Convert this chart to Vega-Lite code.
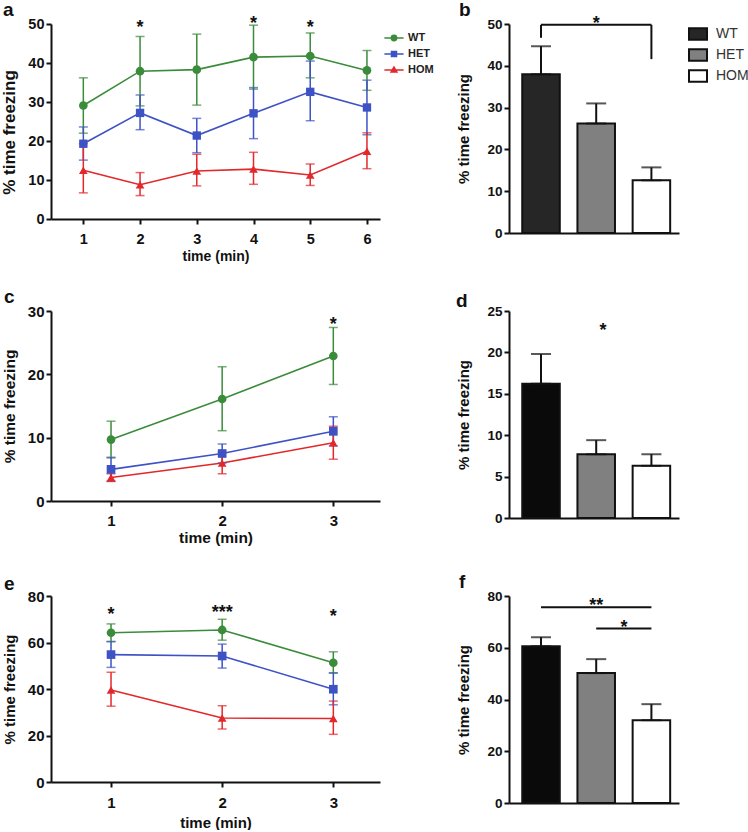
{
  "$schema": "https://vega.github.io/schema/vega-lite/v6.json",
  "background": "white",
  "padding": {"left": 0, "top": 0, "right": 2, "bottom": 0},
  "config": {
    "font": "Liberation Sans",
    "view": {"stroke": null},
    "axis": {"grid": false, "domainColor": "#111", "domainWidth": 2, "tickColor": "#111", "tickWidth": 2, "tickSize": 5, "labelFont": "Liberation Sans", "labelFontWeight": "bold", "labelColor": "#111", "titleFont": "Liberation Sans", "titleFontWeight": "bold", "titleColor": "#111", "labelPadding": 2, "labelOverlap": false},
    "title": {"font": "Liberation Sans", "fontWeight": "bold", "fontSize": 19, "color": "#111", "anchor": "start", "frame": "group", "baseline": "alphabetic", "offset": 11}
  },
  "resolve": {"scale": {"color": "independent", "fill": "independent", "shape": "independent"}, "legend": {"color": "independent", "fill": "independent", "shape": "independent"}},
  "datasets": {
    "lines": [
      {"panel": "a", "group": "WT", "time": 1, "mean": 29.1, "lo": 22.0, "hi": 36.2},
      {"panel": "a", "group": "WT", "time": 2, "mean": 37.9, "lo": 29.0, "hi": 46.8},
      {"panel": "a", "group": "WT", "time": 3, "mean": 38.3, "lo": 29.2, "hi": 47.4},
      {"panel": "a", "group": "WT", "time": 4, "mean": 41.5, "lo": 33.3, "hi": 49.7},
      {"panel": "a", "group": "WT", "time": 5, "mean": 41.8, "lo": 36.2, "hi": 47.7},
      {"panel": "a", "group": "WT", "time": 6, "mean": 38.1, "lo": 33.0, "hi": 43.2},
      {"panel": "a", "group": "HET", "time": 1, "mean": 19.3, "lo": 15.1, "hi": 23.6},
      {"panel": "a", "group": "HET", "time": 2, "mean": 27.2, "lo": 22.9, "hi": 31.8},
      {"panel": "a", "group": "HET", "time": 3, "mean": 21.4, "lo": 17.0, "hi": 25.8},
      {"panel": "a", "group": "HET", "time": 4, "mean": 27.1, "lo": 20.6, "hi": 33.7},
      {"panel": "a", "group": "HET", "time": 5, "mean": 32.6, "lo": 25.2, "hi": 40.5},
      {"panel": "a", "group": "HET", "time": 6, "mean": 28.6, "lo": 21.6, "hi": 35.6},
      {"panel": "a", "group": "HOM", "time": 1, "mean": 12.5, "lo": 6.7, "hi": 19.3},
      {"panel": "a", "group": "HOM", "time": 2, "mean": 8.8, "lo": 6.0, "hi": 11.9},
      {"panel": "a", "group": "HOM", "time": 3, "mean": 12.3, "lo": 8.5, "hi": 16.6},
      {"panel": "a", "group": "HOM", "time": 4, "mean": 12.8, "lo": 8.9, "hi": 17.1},
      {"panel": "a", "group": "HOM", "time": 5, "mean": 11.3, "lo": 8.6, "hi": 14.1},
      {"panel": "a", "group": "HOM", "time": 6, "mean": 17.4, "lo": 12.9, "hi": 22.1},
      {"panel": "c", "group": "WT", "time": 1, "mean": 9.7, "lo": 6.8, "hi": 12.6},
      {"panel": "c", "group": "WT", "time": 2, "mean": 16.1, "lo": 11.1, "hi": 21.2},
      {"panel": "c", "group": "WT", "time": 3, "mean": 22.9, "lo": 18.4, "hi": 27.4},
      {"panel": "c", "group": "HET", "time": 1, "mean": 5.0, "lo": 3.1, "hi": 6.9},
      {"panel": "c", "group": "HET", "time": 2, "mean": 7.5, "lo": 6.0, "hi": 9.0},
      {"panel": "c", "group": "HET", "time": 3, "mean": 11.0, "lo": 8.7, "hi": 13.3},
      {"panel": "c", "group": "HOM", "time": 1, "mean": 3.7, "lo": 3.1, "hi": 4.3},
      {"panel": "c", "group": "HOM", "time": 2, "mean": 6.0, "lo": 4.3, "hi": 7.7},
      {"panel": "c", "group": "HOM", "time": 3, "mean": 9.2, "lo": 6.6, "hi": 11.8},
      {"panel": "e", "group": "WT", "time": 1, "mean": 64.2, "lo": 60.4, "hi": 68.0},
      {"panel": "e", "group": "WT", "time": 2, "mean": 65.4, "lo": 61.0, "hi": 70.0},
      {"panel": "e", "group": "WT", "time": 3, "mean": 51.3, "lo": 46.8, "hi": 56.0},
      {"panel": "e", "group": "HET", "time": 1, "mean": 54.8, "lo": 49.3, "hi": 60.4},
      {"panel": "e", "group": "HET", "time": 2, "mean": 54.2, "lo": 49.0, "hi": 59.3},
      {"panel": "e", "group": "HET", "time": 3, "mean": 39.9, "lo": 33.2, "hi": 47.0},
      {"panel": "e", "group": "HOM", "time": 1, "mean": 39.6, "lo": 32.6, "hi": 47.2},
      {"panel": "e", "group": "HOM", "time": 2, "mean": 27.5, "lo": 22.8, "hi": 32.8},
      {"panel": "e", "group": "HOM", "time": 3, "mean": 27.3, "lo": 20.5, "hi": 34.8}
    ],
    "bars": [
      {"panel": "b", "group": "WT", "mean": 38.0, "hi": 44.7},
      {"panel": "b", "group": "HET", "mean": 26.2, "hi": 31.0},
      {"panel": "b", "group": "HOM", "mean": 12.6, "hi": 15.7},
      {"panel": "d", "group": "WT", "mean": 16.2, "hi": 19.8},
      {"panel": "d", "group": "HET", "mean": 7.7, "hi": 9.4},
      {"panel": "d", "group": "HOM", "mean": 6.3, "hi": 7.7},
      {"panel": "f", "group": "WT", "mean": 60.6, "hi": 64.1},
      {"panel": "f", "group": "HET", "mean": 50.2, "hi": 55.6},
      {"panel": "f", "group": "HOM", "mean": 32.0, "hi": 38.2}
    ],
    "lineStars": [
      {"panel": "a", "time": 2, "mean": 50.3, "label": "*"},
      {"panel": "a", "time": 4, "mean": 51.3, "label": "*"},
      {"panel": "a", "time": 5, "mean": 50.3, "label": "*"},
      {"panel": "c", "time": 3, "mean": 28.6, "label": "*"},
      {"panel": "e", "time": 1, "mean": 74.1, "label": "*"},
      {"panel": "e", "time": 2, "mean": 74.8, "label": "***"},
      {"panel": "e", "time": 3, "mean": 73.1, "label": "*"}
    ],
    "barStars": [
      {"panel": "b", "group": "HET", "mean": 51.1, "label": "*"},
      {"panel": "d", "group": "HET", "mean": 23.2, "label": "*"},
      {"panel": "f", "group": "HET", "mean": 78.2, "label": "**"},
      {"panel": "f", "group": "HET", "mean": 69.6, "label": "*"}
    ],
    "hrules": [
      {"panel": "b", "from": "WT", "to": "HOM", "y": 49.8},
      {"panel": "f", "from": "WT", "to": "HOM", "y": 75.7},
      {"panel": "f", "from": "HET", "to": "HOM", "y": 67.4}
    ],
    "vrules": [
      {"panel": "b", "at": "WT", "y": 46.7, "y2": 49.8},
      {"panel": "b", "at": "HOM", "y": 41.6, "y2": 49.8}
    ]
  },
  "columns": 2,
  "bounds": "flush",
  "align": "each",
  "spacing": {"row": 78, "column": 129},
  "concat": [
    {
      "width": 329, "height": 195,
      "title": {"text": "a", "dx": -48, "offset": -5},
      "encoding": {
        "x": {"field": "time", "type": "quantitative", "scale": {"domain": [0.43, 6.23], "nice": false, "zero": false}, "axis": {"values": [1, 2, 3, 4, 5, 6], "title": "time (min)", "labelFontSize": 14.5, "titleFontSize": 14, "labelPadding": 8, "titlePadding": 4}},
        "y": {"field": "mean", "type": "quantitative", "title": "% time freezing", "scale": {"domain": [0, 50], "nice": false}, "axis": {"values": [0, 10, 20, 30, 40, 50], "tickCount": 6, "title": "% time freezing", "labelFontSize": 14.5, "titleFontSize": 17, "titlePadding": 9, "titleY": 108, "labelOverlap": false}},
        "color": {"field": "group", "type": "nominal", "scale": {"domain": ["WT", "HET", "HOM"], "range": ["#3a8c3a", "#3d52c4", "#e2282b"]},
          "legend": {"orient": "none", "legendX": 336, "legendY": 7, "title": null, "padding": 0, "labelFont": "Liberation Sans", "labelFontSize": 11, "labelFontWeight": "bold", "labelColor": "#222", "labelOffset": 7, "symbolSize": 144, "rowPadding": 3,
            "encode": {"symbols": {"update": {
              "shape": {"signal": "datum.value === 'WT' ? 'M-1.6,0H1.6M0.45,0A0.45,0.45,0,1,1,-0.45,0A0.45,0.45,0,1,1,0.45,0Z' : datum.value === 'HET' ? 'M-1.6,0H1.6M-0.42,-0.42H0.42V0.42H-0.42Z' : 'M-1.6,0H1.6M0,-0.5L0.48,0.35H-0.48Z'"},
              "fill": {"signal": "datum.value === 'WT' ? '#3a8c3a' : datum.value === 'HET' ? '#3d52c4' : '#e2282b'"},
              "stroke": {"signal": "datum.value === 'WT' ? '#3a8c3a' : datum.value === 'HET' ? '#3d52c4' : '#e2282b'"},
              "strokeWidth": {"value": 1.5},
              "opacity": {"value": 1}
            }}}}}
      },
      "layer": [
        {"data": {"name": "lines"}, "transform": [{"filter": "datum.panel === 'a'"}],
         "mark": {"type": "line", "strokeWidth": 1.6}},
        {"data": {"name": "lines"}, "transform": [{"filter": "datum.panel === 'a'"}],
         "mark": {"type": "errorbar", "ticks": true, "size": 9, "thickness": 1.5},
         "encoding": {"y": {"field": "lo", "type": "quantitative", "title": "% time freezing"}, "y2": {"field": "hi"}}},
        {"data": {"name": "lines"}, "transform": [{"filter": "datum.panel === 'a' && datum.group === 'WT'"}],
         "mark": {"type": "point", "filled": true, "size": 75, "opacity": 1, "shape": "circle"}},
        {"data": {"name": "lines"}, "transform": [{"filter": "datum.panel === 'a' && datum.group === 'HET'"}],
         "mark": {"type": "point", "filled": true, "size": 70, "opacity": 1, "shape": "square"}},
        {"data": {"name": "lines"}, "transform": [{"filter": "datum.panel === 'a' && datum.group === 'HOM'"}],
         "mark": {"type": "point", "filled": true, "size": 75, "opacity": 1, "shape": "triangle-up"}},
        {"data": {"name": "lineStars"}, "transform": [{"filter": "datum.panel === 'a'"}],
         "mark": {"type": "text", "fontSize": 18, "fontWeight": "bold", "baseline": "alphabetic", "dy": 10},
         "encoding": {"text": {"field": "label"}, "color": {"value": "#111"}}}
      ]
    },
    {
      "width": 170, "height": 209,
      "title": {"text": "b", "dx": -50, "offset": -5},
      "encoding": {
        "x": {"field": "group", "type": "nominal", "scale": {"domain": ["WT", "HET", "HOM"], "paddingInner": 0.32, "paddingOuter": 0.2, "align": 0.6}, "axis": {"labels": false, "ticks": false, "title": null}}
      },
      "layer": [
        {"data": {"name": "bars"}, "transform": [{"filter": "datum.panel === 'b'"}],
         "mark": {"type": "bar", "stroke": "#111", "strokeWidth": 2},
         "encoding": {"y": {"field": "mean", "type": "quantitative", "scale": {"domain": [0, 50], "nice": false}, "axis": {"values": [0, 10, 20, 30, 40, 50], "title": "% time freezing", "labelFontSize": 13.5, "titleFontSize": 15, "titlePadding": 15}},
           "fill": {"field": "group", "type": "nominal", "scale": {"domain": ["WT", "HET", "HOM"], "range": ["#262626", "#808080", "#ffffff"]},
             "legend": {"orient": "right", "offset": 9, "title": null, "padding": 0, "symbolType": "M-1,-0.65H1V0.65H-1Z", "symbolSize": 324, "symbolStrokeColor": "#111", "symbolStrokeWidth": 2, "labelFont": "Liberation Sans", "labelFontSize": 14, "labelFontWeight": "normal", "labelColor": "#333", "labelOffset": 8, "rowPadding": 1}}}},
        {"data": {"name": "bars"}, "transform": [{"filter": "datum.panel === 'b'"}],
         "mark": {"type": "errorbar", "ticks": true, "size": 20, "thickness": 2, "color": "#111"},
         "encoding": {"y": {"field": "mean", "type": "quantitative", "title": "% time freezing"}, "y2": {"field": "hi"}}},
        {"data": {"name": "hrules"}, "transform": [{"filter": "datum.panel === 'b'"}],
         "mark": {"type": "rule", "strokeWidth": 2, "color": "#111"},
         "encoding": {"x": {"field": "from", "type": "nominal", "bandPosition": 0.5}, "x2": {"field": "to", "bandPosition": 0.5}, "y": {"field": "y", "type": "quantitative", "title": "% time freezing"}}},
        {"data": {"name": "vrules"}, "transform": [{"filter": "datum.panel === 'b'"}],
         "mark": {"type": "rule", "strokeWidth": 2, "color": "#111"},
         "encoding": {"x": {"field": "at", "type": "nominal", "bandPosition": 0.5}, "y": {"field": "y", "type": "quantitative", "title": "% time freezing"}, "y2": {"field": "y2"}}},
        {"data": {"name": "barStars"}, "transform": [{"filter": "datum.panel === 'b'"}],
         "mark": {"type": "text", "fontSize": 18, "fontWeight": "bold", "baseline": "alphabetic", "dy": 10, "color": "#111"},
         "encoding": {"x": {"field": "group", "type": "nominal", "bandPosition": 0.5}, "y": {"field": "mean", "type": "quantitative", "title": "% time freezing"}, "text": {"field": "label"}}}
      ]
    },
    {
      "width": 329, "height": 190,
      "title": {"text": "c", "dx": -47, "offset": -3},
      "encoding": {
        "x": {"field": "time", "type": "quantitative", "scale": {"domain": [0.46, 3.42], "nice": false, "zero": false}, "axis": {"values": [1, 2, 3], "title": "time (min)", "labelFontSize": 15, "titleFontSize": 15.5, "labelPadding": 7, "titlePadding": 2}},
        "color": {"field": "group", "type": "nominal", "scale": {"domain": ["WT", "HET", "HOM"], "range": ["#3a8c3a", "#3d52c4", "#e2282b"]}, "legend": null}
      },
      "layer": [
        {"data": {"name": "lines"}, "transform": [{"filter": "datum.panel === 'c'"}],
         "mark": {"type": "line", "strokeWidth": 1.6},
         "encoding": {"y": {"field": "mean", "type": "quantitative", "scale": {"domain": [0, 30], "nice": false}, "axis": {"values": [0, 10, 20, 30], "title": "% time freezing", "labelFontSize": 15, "titleFontSize": 15.5, "titlePadding": 10}}}},
        {"data": {"name": "lines"}, "transform": [{"filter": "datum.panel === 'c'"}],
         "mark": {"type": "errorbar", "ticks": true, "size": 9, "thickness": 1.5},
         "encoding": {"y": {"field": "lo", "type": "quantitative", "title": "% time freezing"}, "y2": {"field": "hi"}}},
        {"data": {"name": "lines"}, "transform": [{"filter": "datum.panel === 'c'"}],
         "mark": {"type": "point", "filled": true, "size": 75, "opacity": 1},
         "encoding": {"y": {"field": "mean", "type": "quantitative", "title": "% time freezing"},
           "shape": {"field": "group", "type": "nominal", "scale": {"domain": ["WT", "HET", "HOM"], "range": ["circle", "square", "triangle-up"]}, "legend": null}}},
        {"data": {"name": "lineStars"}, "transform": [{"filter": "datum.panel === 'c'"}],
         "mark": {"type": "text", "fontSize": 18, "fontWeight": "bold", "baseline": "alphabetic", "dy": 10},
         "encoding": {"y": {"field": "mean", "type": "quantitative", "title": "% time freezing"}, "text": {"field": "label"}, "color": {"value": "#111"}}}
      ]
    },
    {
      "width": 170, "height": 207,
      "title": {"text": "d", "dx": -53, "offset": -7},
      "encoding": {
        "x": {"field": "group", "type": "nominal", "scale": {"domain": ["WT", "HET", "HOM"], "paddingInner": 0.32, "paddingOuter": 0.2, "align": 0.6}, "axis": {"labels": false, "ticks": false, "title": null}}
      },
      "layer": [
        {"data": {"name": "bars"}, "transform": [{"filter": "datum.panel === 'd'"}],
         "mark": {"type": "bar", "stroke": "#111", "strokeWidth": 2},
         "encoding": {"y": {"field": "mean", "type": "quantitative", "scale": {"domain": [0, 25], "nice": false}, "axis": {"values": [0, 5, 10, 15, 20, 25], "title": "% time freezing", "labelFontSize": 13.5, "titleFontSize": 15, "titlePadding": 15}},
           "fill": {"field": "group", "type": "nominal", "scale": {"domain": ["WT", "HET", "HOM"], "range": ["#0a0a0a", "#808080", "#ffffff"]}, "legend": null}}},
        {"data": {"name": "bars"}, "transform": [{"filter": "datum.panel === 'd'"}],
         "mark": {"type": "errorbar", "ticks": true, "size": 20, "thickness": 2, "color": "#111"},
         "encoding": {"y": {"field": "mean", "type": "quantitative", "title": "% time freezing"}, "y2": {"field": "hi"}}},
        {"data": {"name": "barStars"}, "transform": [{"filter": "datum.panel === 'd'"}],
         "mark": {"type": "text", "fontSize": 18, "fontWeight": "bold", "baseline": "alphabetic", "dy": 10, "color": "#111"},
         "encoding": {"x": {"field": "group", "type": "nominal", "bandPosition": 0.68}, "y": {"field": "mean", "type": "quantitative", "title": "% time freezing"}, "text": {"field": "label"}}}
      ]
    },
    {
      "width": 329, "height": 186,
      "title": {"text": "e", "dx": -47, "offset": -5},
      "encoding": {
        "x": {"field": "time", "type": "quantitative", "scale": {"domain": [0.46, 3.42], "nice": false, "zero": false}, "axis": {"values": [1, 2, 3], "title": "time (min)", "labelFontSize": 15, "titleFontSize": 15, "labelPadding": 8, "titlePadding": 5}},
        "color": {"field": "group", "type": "nominal", "scale": {"domain": ["WT", "HET", "HOM"], "range": ["#3a8c3a", "#3d52c4", "#e2282b"]}, "legend": null}
      },
      "layer": [
        {"data": {"name": "lines"}, "transform": [{"filter": "datum.panel === 'e'"}],
         "mark": {"type": "line", "strokeWidth": 1.6},
         "encoding": {"y": {"field": "mean", "type": "quantitative", "scale": {"domain": [0, 80], "nice": false}, "axis": {"values": [0, 20, 40, 60, 80], "title": "% time freezing", "labelFontSize": 15, "titleFontSize": 15, "titlePadding": 10}}}},
        {"data": {"name": "lines"}, "transform": [{"filter": "datum.panel === 'e'"}],
         "mark": {"type": "errorbar", "ticks": true, "size": 9, "thickness": 1.5},
         "encoding": {"y": {"field": "lo", "type": "quantitative", "title": "% time freezing"}, "y2": {"field": "hi"}}},
        {"data": {"name": "lines"}, "transform": [{"filter": "datum.panel === 'e'"}],
         "mark": {"type": "point", "filled": true, "size": 75, "opacity": 1},
         "encoding": {"y": {"field": "mean", "type": "quantitative", "title": "% time freezing"},
           "shape": {"field": "group", "type": "nominal", "scale": {"domain": ["WT", "HET", "HOM"], "range": ["circle", "square", "triangle-up"]}, "legend": null}}},
        {"data": {"name": "lineStars"}, "transform": [{"filter": "datum.panel === 'e'"}],
         "mark": {"type": "text", "fontSize": 18, "fontWeight": "bold", "baseline": "alphabetic", "dy": 10},
         "encoding": {"y": {"field": "mean", "type": "quantitative", "title": "% time freezing"}, "text": {"field": "label"}, "color": {"value": "#111"}}}
      ]
    },
    {
      "width": 170, "height": 207,
      "title": {"text": "f", "dx": -50, "offset": -3},
      "encoding": {
        "x": {"field": "group", "type": "nominal", "scale": {"domain": ["WT", "HET", "HOM"], "paddingInner": 0.32, "paddingOuter": 0.2, "align": 0.6}, "axis": {"labels": false, "ticks": false, "title": null}}
      },
      "layer": [
        {"data": {"name": "bars"}, "transform": [{"filter": "datum.panel === 'f'"}],
         "mark": {"type": "bar", "stroke": "#111", "strokeWidth": 2},
         "encoding": {"y": {"field": "mean", "type": "quantitative", "scale": {"domain": [0, 80], "nice": false}, "axis": {"values": [0, 20, 40, 60, 80], "title": "% time freezing", "labelFontSize": 13.5, "titleFontSize": 15, "titlePadding": 15}},
           "fill": {"field": "group", "type": "nominal", "scale": {"domain": ["WT", "HET", "HOM"], "range": ["#0a0a0a", "#808080", "#ffffff"]}, "legend": null}}},
        {"data": {"name": "bars"}, "transform": [{"filter": "datum.panel === 'f'"}],
         "mark": {"type": "errorbar", "ticks": true, "size": 20, "thickness": 2, "color": "#111"},
         "encoding": {"y": {"field": "mean", "type": "quantitative", "title": "% time freezing"}, "y2": {"field": "hi"}}},
        {"data": {"name": "hrules"}, "transform": [{"filter": "datum.panel === 'f'"}],
         "mark": {"type": "rule", "strokeWidth": 2, "color": "#111"},
         "encoding": {"x": {"field": "from", "type": "nominal", "bandPosition": 0.5}, "x2": {"field": "to", "bandPosition": 0.5}, "y": {"field": "y", "type": "quantitative", "title": "% time freezing"}}},
        {"data": {"name": "barStars"}, "transform": [{"filter": "datum.panel === 'f' && datum.label === '**'"}],
         "mark": {"type": "text", "fontSize": 18, "fontWeight": "bold", "baseline": "alphabetic", "dy": 10, "color": "#111"},
         "encoding": {"x": {"field": "group", "type": "nominal", "bandPosition": 0.5}, "y": {"field": "mean", "type": "quantitative", "title": "% time freezing"}, "text": {"field": "label"}}},
        {"data": {"name": "barStars"}, "transform": [{"filter": "datum.panel === 'f' && datum.label === '*'"}],
         "mark": {"type": "text", "fontSize": 18, "fontWeight": "bold", "baseline": "alphabetic", "dy": 10, "color": "#111"},
         "encoding": {"x": {"field": "group", "type": "nominal", "bandPosition": 1.24}, "y": {"field": "mean", "type": "quantitative", "title": "% time freezing"}, "text": {"field": "label"}}}
      ]
    }
  ]
}
